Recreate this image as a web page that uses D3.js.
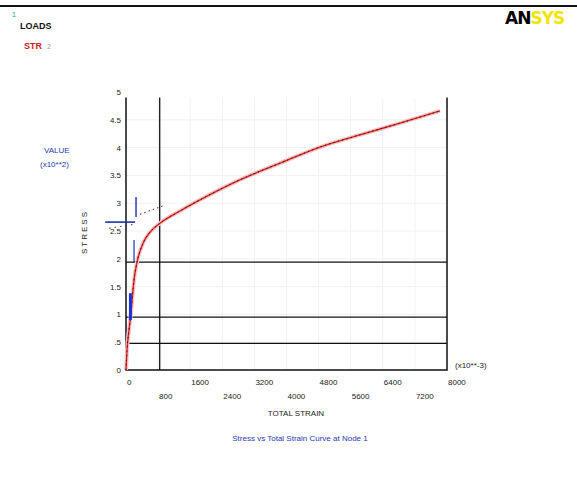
<!DOCTYPE html>
<html>
<head>
<meta charset="utf-8">
<script src="https://cdn.jsdelivr.net/npm/d3@7"></script>
<style>
  body { margin: 0; background: #fff; }
  svg { font-family: "Liberation Sans", Arial, sans-serif; }
</style>
</head>
<body>
<svg></svg>
<script>
var WIDTH = 577;
var HEIGHT = 478;

// curve (x in axis units, y in axis units)
var curveX = [0, 25, 75, 125, 175, 200, 275, 425, 600, 848, 1346, 1844, 2716, 3838, 4835, 5832, 6829, 7826];
var curveY = [0, 0.36, 0.72, 1.03, 1.44, 1.62, 1.94, 2.28, 2.48, 2.64, 2.86, 3.06, 3.38, 3.72, 4.01, 4.23, 4.44, 4.66];

var xTicks = [0, 800, 1600, 2400, 3200, 4000, 4800, 5600, 6400, 7200, 8000];
var xTickLabels = ['0', '800', '1600', '2400', '3200', '4000', '4800', '5600', '6400', '7200', '8000'];
var yTicks = [0, 0.5, 1, 1.5, 2, 2.5, 3, 3.5, 4, 4.5, 5];
var yTickLabels = ['0', '.5', '1', '1.5', '2', '2.5', '3', '3.5', '4', '4.5', '5'];

// reference lines
var hLines = [1.94, 0.95, 0.48];
var vLines = [840];

var svg = d3.select('svg')
  .attr('width', WIDTH)
  .attr('height', HEIGHT);

var xScale = d3.scaleLinear().domain([0, 8000]).range([126, 447]);
var yScale = d3.scaleLinear().domain([0, 5]).range([370, 92]);

// frame line at top
svg.append('line')
  .attr('x1', 0).attr('x2', WIDTH)
  .attr('y1', 6).attr('y2', 6)
  .attr('stroke', '#111').attr('stroke-width', 2);

// faint grid
svg.append('g').selectAll('line')
  .data(xTicks.slice(1, -1))
  .enter().append('line')
  .attr('x1', function(d) { return xScale(d); })
  .attr('x2', function(d) { return xScale(d); })
  .attr('y1', yScale(0)).attr('y2', yScale(4.9))
  .attr('stroke', '#f1f1f4').attr('stroke-width', 1);
svg.append('g').selectAll('line')
  .data(yTicks.slice(1, -1))
  .enter().append('line')
  .attr('x1', xScale(0)).attr('x2', xScale(8000))
  .attr('y1', function(d) { return yScale(d); })
  .attr('y2', function(d) { return yScale(d); })
  .attr('stroke', '#f1f1f4').attr('stroke-width', 1);

// axes box (left, bottom, right)
var yTop = yScale(4.9);
svg.append('path')
  .attr('d', 'M' + xScale(0) + ',' + yTop + 'V' + yScale(0) + 'H' + xScale(8000) + 'V' + yTop)
  .attr('fill', 'none').attr('stroke', '#111').attr('stroke-width', 1.5);

// reference lines
svg.append('g').selectAll('line')
  .data(hLines)
  .enter().append('line')
  .attr('x1', xScale(0)).attr('x2', xScale(8000))
  .attr('y1', function(d) { return yScale(d); })
  .attr('y2', function(d) { return yScale(d); })
  .attr('stroke', '#111').attr('stroke-width', 1.3);
svg.append('g').selectAll('line')
  .data(vLines)
  .enter().append('line')
  .attr('x1', function(d) { return xScale(d); })
  .attr('x2', function(d) { return xScale(d); })
  .attr('y1', yTop).attr('y2', yScale(0))
  .attr('stroke', '#111').attr('stroke-width', 1.3);

// tick labels
var xAxis = svg.append('g').attr('font-size', 8).attr('fill', '#222');
xAxis.selectAll('text')
  .data(xTicks)
  .enter().append('text')
  .attr('x', function(d) { return xScale(d) + 1; })
  .attr('y', function(d, i) { return i % 2 === 0 ? 385 : 399; })
  .text(function(d, i) { return xTickLabels[i]; });

var yAxis = svg.append('g').attr('font-size', 8).attr('fill', '#222').attr('text-anchor', 'end');
yAxis.selectAll('text')
  .data(yTicks)
  .enter().append('text')
  .attr('x', 121)
  .attr('y', function(d) { return yScale(d) + 3; })
  .text(function(d, i) { return yTickLabels[i]; });

// curve
var line = d3.line()
  .x(function(d) { return xScale(d[0]); })
  .y(function(d) { return yScale(d[1]); })
  .curve(d3.curveMonotoneX);
var pts = curveX.map(function(x, i) { return [x, curveY[i]]; });

svg.append('path').datum(pts).attr('d', line)
  .attr('fill', 'none').attr('stroke', '#f6c2c2').attr('stroke-width', 4);
svg.append('path').datum(pts).attr('d', line)
  .attr('fill', 'none').attr('stroke', '#e02424').attr('stroke-width', 1.4);
svg.append('path').datum(pts).attr('d', line)
  .attr('fill', 'none').attr('stroke', '#222').attr('stroke-width', 1)
  .attr('stroke-dasharray', '1.5,3');

// blue markers near the yield region
var blueH = [[-520, 2.66], [225, 2.66]];
var blueV1 = [[250, 3.11], [250, 2.75]];
var blueV2 = [[200, 2.34], [200, 1.94]];
var blueThick = [[110, 1.38], [110, 0.9]];
var plain = d3.line()
  .x(function(d) { return xScale(d[0]); })
  .y(function(d) { return yScale(d[1]); });
svg.append('path').datum(blueH).attr('d', plain).attr('stroke', '#2030b0').attr('stroke-width', 1.6);
svg.append('path').datum(blueV1).attr('d', plain).attr('stroke', '#2030b0').attr('stroke-width', 1.4);
svg.append('path').datum(blueV2).attr('d', plain).attr('stroke', '#2030b0').attr('stroke-width', 1.2);
svg.append('path').datum(blueThick).attr('d', plain).attr('stroke', '#2030d0').attr('stroke-width', 3);
svg.append('path').datum([[-420, 2.55], [200, 2.62]]).attr('d', plain)
  .attr('stroke', '#333').attr('stroke-width', 1).attr('stroke-dasharray', '1.5,4');
svg.append('path').datum([[350, 2.8], [950, 2.96]]).attr('d', plain)
  .attr('stroke', '#333').attr('stroke-width', 1).attr('stroke-dasharray', '1.5,3');

// texts
svg.append('text').attr('x', 12).attr('y', 17).attr('font-size', 7).attr('fill', '#2a9a8a').text('1');
svg.append('text').attr('x', 20).attr('y', 29).attr('font-size', 9).attr('font-weight', 'bold').attr('fill', '#111').text('LOADS');
svg.append('text').attr('x', 24).attr('y', 49).attr('font-size', 9).attr('font-weight', 'bold').attr('fill', '#d02020').text('STR');
svg.append('text').attr('x', 47).attr('y', 49).attr('font-size', 7).attr('fill', '#999').text('2');

svg.append('text').attr('x', 505).attr('y', 24).attr('font-size', 17).attr('font-weight', 'bold')
  .attr('font-family', 'DejaVu Sans').attr('letter-spacing', -1)
  .selectAll('tspan').data([['AN', '#000'], ['SYS', '#f2e600']])
  .enter().append('tspan').attr('fill', function(d) { return d[1]; }).text(function(d) { return d[0]; });

svg.append('text').attr('x', 44).attr('y', 153).attr('font-size', 8).attr('fill', '#2838b8').text('VALUE');
svg.append('text').attr('x', 40).attr('y', 167).attr('font-size', 8).attr('fill', '#2838b8').text('(x10**2)');

svg.append('text').attr('transform', 'translate(87,232) rotate(-90)').attr('text-anchor', 'middle')
  .attr('font-size', 8).attr('letter-spacing', 2).attr('fill', '#222').text('STRESS');

svg.append('text').attr('x', 455).attr('y', 368).attr('font-size', 8).attr('fill', '#222').text('(x10**-3)');
svg.append('text').attr('x', 296).attr('y', 416).attr('font-size', 8).attr('text-anchor', 'middle').attr('fill', '#222').text('TOTAL STRAIN');
svg.append('text').attr('x', 300).attr('y', 441).attr('font-size', 8).attr('text-anchor', 'middle').attr('fill', '#2838b8').text('Stress vs Total Strain Curve at Node 1');
</script>
</body>
</html>
